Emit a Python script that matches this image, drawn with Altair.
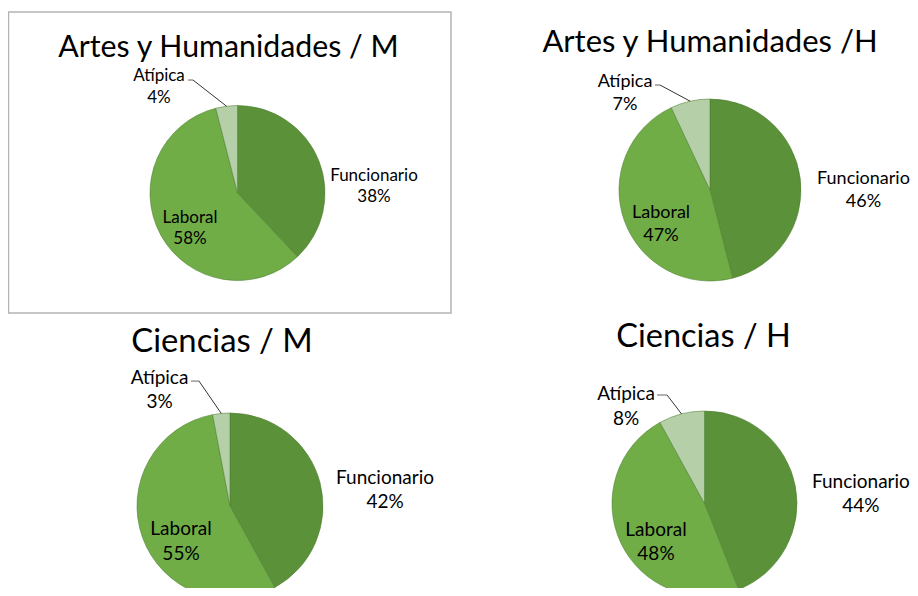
import altair as alt
import pandas as pd

# ---------------- data ----------------
panels = ["Artes y Humanidades / M", "Artes y Humanidades /H", "Ciencias / M", "Ciencias / H"]
categories = ["Funcionario", "Laboral", "Atípica"]
funcionario = [38, 46, 42, 44]
laboral = [58, 47, 55, 48]
atipica = [4, 7, 3, 8]

colors = ["#5B9139", "#70AD47", "#B5D0A8"]

rows = []
for i, p in enumerate(panels):
    vals = [funcionario[i], laboral[i], atipica[i]]
    for j, c in enumerate(categories):
        rows.append({"panel": p, "pid": i, "category": c, "order": j, "value": vals[j]})
df = pd.DataFrame(rows)

# ---------------- layout (pixels) ----------------
LABEL_DY = -9
layout = [
    dict(cx=229.5, cy=185, r=87.5, tx=220.5, ty=49, tsize=30.3, lsize=17, lh=21.5,
         nudge={"Funcionario": (6.3, 43.5), "Laboral": (-1.5, 8.7), "Atípica": (-62.6, 17.9)},
         elbow=(34, -5), tail=5),
    dict(cx=702, cy=182, r=91, tx=702, ty=44, tsize=31, lsize=18, lh=23,
         nudge={"Funcionario": (9.0, 16.2), "Laboral": (2.4, 13.5), "Atípica": (-56.2, 29.8)},
         elbow=(35, -6), tail=5),
    dict(cx=222, cy=498, r=93, tx=214, ty=344, tsize=32.8, lsize=19, lh=24.5,
         nudge={"Funcionario": (10.9, 18), "Laboral": (3.5, 13.1), "Atípica": (-57.8, 14.8)},
         elbow=(39.5, -5.5), tail=8),
    dict(cx=696.5, cy=495.5, r=92.5, tx=695.5, ty=339, tsize=32.5, lsize=19, lh=24.5,
         nudge={"Funcionario": (11.0, 15.2), "Laboral": (1.7, 11.4), "Atípica": (-45.1, 29.9)},
         elbow=(41, -8.5), tail=10),
]
radial = {"Funcionario": 1.6, "Laboral": 0.6, "Atípica": 1.45}

FONT = "Lato"
color_scale = alt.Scale(domain=categories, range=colors)

layers = []

# border box around first chart
box = alt.Chart(pd.DataFrame({"k": [0]})).mark_rect(
    fill=None, stroke="#b4b4b4", strokeWidth=1.5
).encode(x=alt.value(0.5), x2=alt.value(443), y=alt.value(4), y2=alt.value(305))
layers.append(box)

for i, L in enumerate(layout):
    base = alt.Chart(df).transform_filter(alt.datum.pid == i)
    stacked = base.transform_joinaggregate(total="sum(value)").transform_window(
        cum="sum(value)", sort=[alt.SortField("order")], frame=[None, 0]
    ).transform_calculate(
        mid="(datum.cum - datum.value / 2) / datum.total * 2 * PI"
    )

    arc = base.mark_arc(outerRadius=L["r"], stroke="#4d7d30", strokeWidth=0.8,
                        strokeOpacity=0.7).encode(
        theta=alt.Theta("value:Q", stack=True),
        order=alt.Order("order:Q"),
        color=alt.Color("category:N", scale=color_scale, legend=None),
        x=alt.value(L["cx"]),
        y=alt.value(L["cy"]),
    )
    layers.append(arc)

    title = base.transform_filter(alt.datum.order == 0).mark_text(
        font=FONT, fontSize=L["tsize"], align="center", baseline="alphabetic", color="#000000"
    ).encode(text="panel:N", x=alt.value(L["tx"]), y=alt.value(L["ty"]))
    layers.append(title)

    for c in categories:
        D = radial[c] * L["r"]
        nx, ny = L["nudge"][c]
        ny = ny + LABEL_DY
        lab = stacked.transform_filter(alt.datum.category == c).transform_calculate(
            lx=f"{L['cx']} + {D} * sin(datum.mid) + {nx}",
            ly=f"{L['cy']} - {D} * cos(datum.mid) + {ny}",
            label="datum.category + '\\n' + datum.value + '%'",
        )
        txt = lab.mark_text(
            font=FONT, fontSize=L["lsize"], lineHeight=L["lh"], lineBreak="\n",
            align="center", baseline="middle", color="#000000"
        ).encode(
            x=alt.X("lx:Q", scale=None, axis=None),
            y=alt.Y("ly:Q", scale=None, axis=None),
            text="label:N",
        )
        layers.append(txt)

        if c == "Atípica":
            ex, ey = L["elbow"]
            ey = ey - LABEL_DY
            lead = lab.transform_calculate(
                px=f"{L['cx']} + {L['r']} * sin(datum.mid)",
                py=f"{L['cy']} - {L['r']} * cos(datum.mid)",
                qx=f"datum.lx + {ex}",
                qy=f"datum.ly + {ey}",
                sx=f"datum.lx + {ex - L['tail']}",
            )
            diag = lead.mark_rule(color="#000000", strokeWidth=0.8).encode(
                x=alt.X("px:Q", scale=None, axis=None),
                y=alt.Y("py:Q", scale=None, axis=None),
                x2="qx:Q",
                y2="qy:Q",
            )
            horiz = lead.mark_rule(color="#7f7f7f", strokeWidth=1.2).encode(
                x=alt.X("qx:Q", scale=None, axis=None),
                y=alt.Y("qy:Q", scale=None, axis=None),
                x2="sx:Q",
                y2="qy:Q",
            )
            layers.append(diag)
            layers.append(horiz)

chart = alt.layer(*layers).properties(
    width=902, height=580, padding=0, autosize="none", background="#ffffff"
).configure_view(stroke=None)

chart.save("out.html", embed_options={"renderer": "svg", "actions": False})
